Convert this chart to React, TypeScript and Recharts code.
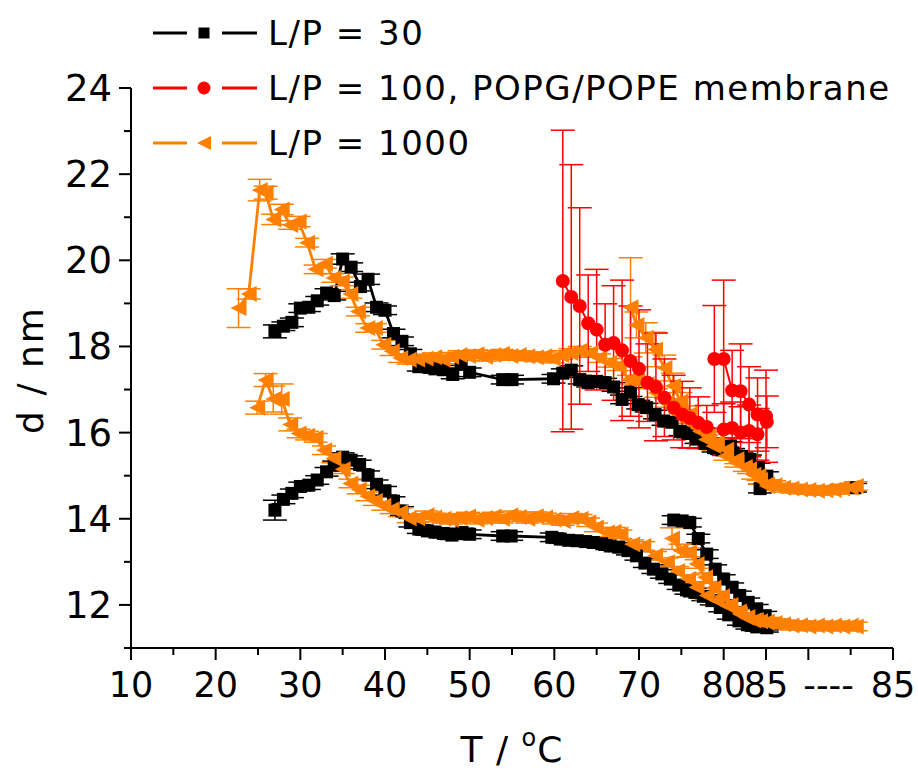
import React from 'react';
import { LineChart, Line, XAxis, YAxis, ErrorBar, Label } from 'recharts';

const FONT = '"DejaVu Sans", Verdana, sans-serif';
const BLACK = '#000000';
const RED = '#ff0000';
const ORANGE = '#ff8000';

// [T, d, error], one array per run
const lp30Upper: number[][] = [
  [27.0, 18.35, 0.15], [28.0, 18.47, 0.1], [29.0, 18.56, 0.1], [30.0, 18.89, 0.1], [31.0, 18.91, 0.1],
  [32.0, 19.06, 0.1], [33.1, 19.24, 0.1], [34.0, 19.18, 0.1], [35.0, 20.03, 0.12], [36.0, 19.84, 0.1],
  [37.1, 19.39, 0.1], [38.0, 19.56, 0.12], [39.0, 18.91, 0.1], [40.0, 18.84, 0.1], [41.0, 18.3, 0.1],
  [42.0, 18.12, 0.1], [43.0, 17.83, 0.1], [44.0, 17.53, 0.1], [45.0, 17.53, 0.1], [45.9, 17.48, 0.1],
  [46.9, 17.46, 0.1], [48.0, 17.35, 0.1], [49.0, 17.6, 0.1], [50.0, 17.4, 0.1], [53.9, 17.23, 0.1],
  [55.0, 17.23, 0.1], [59.9, 17.25, 0.1], [61.0, 17.38, 0.1], [62.0, 17.45, 0.1], [63.0, 17.23, 0.1],
  [64.0, 17.16, 0.1], [65.0, 17.19, 0.1], [66.0, 17.16, 0.1], [67.0, 17.06, 0.1], [68.0, 16.77, 0.1],
  [69.0, 16.94, 0.1], [69.9, 16.65, 0.1], [70.9, 16.58, 0.1], [71.9, 16.42, 0.1], [72.9, 16.27, 0.1],
  [73.9, 16.24, 0.1], [74.9, 16.03, 0.1], [75.8, 15.98, 0.1], [76.8, 15.85, 0.1], [77.8, 15.75, 0.1],
  [78.8, 15.65, 0.1], [79.8, 15.6, 0.1], [80.8, 15.69, 0.1], [81.1, 15.53, 0.1], [82.1, 15.45, 0.1],
  [83.1, 15.38, 0.1], [84.1, 15.19, 0.1], [85.1, 14.99, 0.1], [84.3, 14.7, 0.1], [95.5, 14.72, 0.1],
];

const lp30Lower: number[][] = [
  [27.0, 14.2, 0.23], [28.0, 14.45, 0.1], [29.0, 14.59, 0.1], [30.0, 14.75, 0.1], [31.0, 14.78, 0.1],
  [32.0, 14.9, 0.1], [33.1, 15.09, 0.1], [34.0, 15.24, 0.1], [35.0, 15.43, 0.1], [36.0, 15.36, 0.1],
  [37.0, 15.26, 0.1], [38.0, 15.01, 0.1], [39.0, 14.8, 0.1], [40.0, 14.65, 0.1], [41.0, 14.41, 0.1],
  [42.0, 14.18, 0.1], [43.0, 13.91, 0.1], [44.0, 13.76, 0.1], [45.0, 13.72, 0.1], [45.9, 13.69, 0.1],
  [46.9, 13.66, 0.1], [47.9, 13.62, 0.1], [49.1, 13.68, 0.1], [50.0, 13.64, 0.1], [53.9, 13.6, 0.1],
  [54.9, 13.6, 0.1], [59.7, 13.57, 0.1], [60.7, 13.53, 0.1], [61.7, 13.5, 0.1], [62.7, 13.49, 0.1],
  [63.7, 13.47, 0.1], [64.6, 13.45, 0.1], [65.6, 13.42, 0.1], [66.6, 13.37, 0.1], [67.6, 13.34, 0.1],
  [68.7, 13.26, 0.1], [69.7, 13.14, 0.1], [70.7, 12.97, 0.1], [71.7, 12.83, 0.1], [72.7, 12.72, 0.1],
  [73.7, 12.6, 0.1], [74.7, 12.46, 0.1], [75.6, 12.35, 0.1], [76.6, 12.29, 0.1], [77.6, 12.2, 0.1],
  [78.6, 12.1, 0.1], [79.6, 11.94, 0.1], [80.6, 11.77, 0.1], [81.8, 11.63, 0.1], [82.8, 11.54, 0.1],
  [83.9, 11.49, 0.1], [85.1, 11.47, 0.1],
];

const lp30LowerLate: number[][] = [
  [74.1, 13.97, 0.1], [75.1, 13.95, 0.1], [76.0, 13.91, 0.1], [77.0, 13.54, 0.1], [78.0, 13.18, 0.1],
  [79.0, 12.83, 0.1], [80.0, 12.6, 0.1], [81.0, 12.41, 0.1], [81.9, 12.22, 0.1], [82.9, 12.06, 0.1],
  [83.9, 11.91, 0.1], [84.9, 11.75, 0.1], [85.1, 11.52, 0.1],
];

const lp100Main: number[][] = [
  [61.0, 19.52, 3.5], [62.0, 19.15, 3.07], [63.0, 18.94, 2.28], [64.0, 18.54, 1.12], [65.0, 18.39, 1.4],
  [66.0, 18.04, 0.95], [67.0, 18.08, 1.33], [68.0, 17.91, 1.63], [69.0, 17.66, 1.28], [70.0, 17.48, 1.37],
  [71.0, 17.16, 0.9], [72.0, 17.06, 1.25], [73.0, 16.81, 0.9], [74.1, 16.58, 0.75], [75.1, 16.42, 0.77],
  [76.0, 16.34, 0.7], [77.0, 16.23, 0.6], [78.0, 16.13, 0.5], [80.0, 16.07, 0.6], [81.0, 16.11, 0.6],
  [82.0, 16.0, 0.6], [83.0, 16.04, 0.6], [84.0, 15.96, 0.6], [85.1, 16.25, 0.6],
];

const lp100Late: number[][] = [
  [78.9, 17.71, 1.24], [80.0, 17.71, 1.83], [81.0, 16.98, 0.93], [82.0, 16.96, 1.1], [83.0, 16.65, 0.88],
  [84.0, 16.42, 0.85], [85.0, 16.38, 1.07],
];

const lp1000Upper: number[][] = [
  [22.7, 18.89, 0.45], [23.9, 19.22, 0.12], [25.2, 21.63, 0.25], [25.9, 21.57, 0.15], [26.8, 20.95, 0.12],
  [27.8, 21.18, 0.12], [28.8, 20.82, 0.1], [29.8, 20.9, 0.12], [30.8, 20.41, 0.1], [31.8, 19.79, 0.1],
  [32.9, 19.92, 0.1], [33.9, 19.59, 0.1], [34.9, 19.51, 0.1], [35.9, 19.22, 0.1], [36.8, 18.81, 0.1],
  [37.9, 18.43, 0.1], [38.8, 18.43, 0.1], [39.8, 18.04, 0.1], [40.8, 17.89, 0.1], [41.8, 17.73, 0.1],
  [42.8, 17.69, 0.1], [43.8, 17.7, 0.1], [44.8, 17.72, 0.1], [45.8, 17.75, 0.1], [46.8, 17.7, 0.1],
  [47.8, 17.76, 0.1], [48.8, 17.8, 0.1], [49.8, 17.78, 0.1], [50.8, 17.82, 0.1], [51.8, 17.76, 0.1],
  [52.8, 17.8, 0.1], [53.8, 17.83, 0.1], [54.8, 17.78, 0.1], [55.8, 17.8, 0.1], [56.8, 17.77, 0.1],
  [57.8, 17.75, 0.1], [58.8, 17.77, 0.1], [59.8, 17.72, 0.1], [60.8, 17.8, 0.1], [61.9, 17.85, 0.1],
  [63.0, 17.9, 0.1], [64.2, 17.85, 0.1], [65.3, 17.73, 0.1], [66.5, 17.62, 0.1], [67.6, 17.54, 0.1],
  [68.8, 17.23, 0.1], [69.8, 17.2, 0.1], [70.9, 17.12, 0.1], [72.0, 16.92, 0.1], [73.2, 16.69, 0.1],
  [74.3, 16.46, 0.1], [75.3, 16.31, 0.1], [76.3, 16.2, 0.1], [77.2, 16.03, 0.1], [78.2, 15.92, 0.1],
  [79.2, 15.77, 0.1], [80.3, 15.6, 0.1], [81.5, 15.38, 0.1], [82.5, 15.2, 0.1], [83.5, 15.02, 0.1],
  [84.3, 14.9, 0.1], [85.1, 14.76, 0.1], [86.0, 14.78, 0.1], [87.0, 14.72, 0.1], [88.0, 14.7, 0.1],
  [89.0, 14.68, 0.1], [90.0, 14.67, 0.1], [91.0, 14.65, 0.1], [92.0, 14.66, 0.1], [93.0, 14.67, 0.1],
  [94.0, 14.7, 0.1], [95.0, 14.72, 0.1], [95.6, 14.76, 0.1],
];

const lp1000UpperLate: number[][] = [
  [69.0, 18.91, 1.15], [69.7, 18.5, 0.3], [70.8, 18.2, 0.35], [71.9, 17.93, 0.4], [73.0, 17.5, 0.3],
  [74.0, 17.08, 0.3], [74.9, 16.73, 0.2], [75.9, 16.42, 0.2], [76.9, 16.11, 0.15], [77.9, 15.84, 0.1],
  [78.8, 15.69, 0.1], [80.2, 15.46, 0.1], [81.5, 15.3, 0.1], [83.0, 15.15, 0.1], [84.1, 14.99, 0.1],
  [85.1, 14.8, 0.1],
];

const lp1000Lower: number[][] = [
  [24.9, 16.58, 0.15], [25.9, 17.22, 0.15], [26.8, 16.78, 0.3], [27.8, 16.78, 0.35], [28.8, 16.19, 0.15],
  [29.8, 15.98, 0.1], [30.8, 15.93, 0.1], [31.8, 15.88, 0.1], [32.8, 15.59, 0.1], [33.9, 15.4, 0.1],
  [35.0, 15.15, 0.1], [35.9, 14.82, 0.1], [36.9, 14.68, 0.1], [37.9, 14.52, 0.1], [38.8, 14.41, 0.1],
  [39.8, 14.3, 0.1], [40.8, 14.22, 0.1], [41.8, 14.15, 0.1], [42.8, 14.01, 0.1], [43.8, 14.01, 0.1],
  [44.9, 14.08, 0.1], [45.8, 14.03, 0.1], [46.9, 14.0, 0.1], [47.8, 13.98, 0.1], [48.8, 14.02, 0.1],
  [49.8, 14.05, 0.1], [50.8, 13.98, 0.1], [51.8, 14.02, 0.1], [52.8, 14.05, 0.1], [53.8, 14.0, 0.1],
  [54.8, 14.08, 0.1], [55.8, 14.04, 0.1], [56.8, 14.0, 0.1], [57.8, 14.06, 0.1], [58.9, 14.03, 0.1],
  [59.9, 13.98, 0.1], [61.0, 13.95, 0.1], [62.0, 14.02, 0.1], [63.1, 14.0, 0.1], [64.0, 13.92, 0.1],
  [64.9, 13.8, 0.1], [66.2, 13.68, 0.1], [67.0, 13.7, 0.1], [67.8, 13.64, 0.1], [69.2, 13.41, 0.1],
  [70.5, 13.37, 0.1], [71.9, 13.14, 0.1], [73.3, 12.99, 0.1], [74.5, 12.79, 0.1], [75.8, 12.6, 0.1],
  [76.8, 12.41, 0.1], [78.0, 12.22, 0.1], [79.2, 12.1, 0.1], [80.4, 11.98, 0.1], [81.9, 11.79, 0.1],
  [82.7, 11.7, 0.1], [83.5, 11.64, 0.1], [84.3, 11.62, 0.1], [85.1, 11.61, 0.1], [86.0, 11.58, 0.1],
  [87.0, 11.55, 0.1], [88.0, 11.52, 0.1], [89.0, 11.53, 0.1], [90.0, 11.5, 0.1], [91.0, 11.52, 0.1],
  [92.0, 11.5, 0.1], [93.0, 11.52, 0.1], [94.0, 11.5, 0.1], [95.0, 11.52, 0.1], [95.6, 11.5, 0.1],
];

const lp1000LowerLate: number[][] = [
  [73.9, 13.54, 0.25], [74.9, 13.26, 0.15], [75.9, 13.22, 0.1], [76.8, 12.95, 0.1], [77.8, 12.64, 0.1],
  [78.8, 12.4, 0.1], [79.8, 12.2, 0.1], [80.8, 12.0, 0.1], [81.8, 11.85, 0.1], [82.8, 11.72, 0.1],
  [83.8, 11.65, 0.1], [85.0, 11.6, 0.1],
];

const seriesNames = ['L/P = 30', 'L/P = 100, POPG/POPE membrane', 'L/P = 1000'];

const xMajorTicks = [10, 20, 30, 40, 50, 60, 70, 80, 85, 90, 100];
const xMinorTicks = [15, 25, 35, 45, 55, 65, 75, 95];
const xTickLabels: Record<number, string> = {
  10: '10', 20: '20', 30: '30', 40: '40', 50: '50', 60: '60', 70: '70', 80: '80', 85: '85', 90: '----', 100: '85',
};
const yMajorTicks = [12, 14, 16, 18, 20, 22, 24];
const yMinorTicks = [11, 13, 15, 17, 19, 21, 23];

const toRows = (rows: number[][]) => rows.map(([t, d, err]) => ({ t, d, err }));

const Square = ({ cx, cy, size, color }: any) => (
  <rect x={cx - size / 2} y={cy - size / 2} width={size} height={size} fill={color} />
);
const Circle = ({ cx, cy, size, color }: any) => <circle cx={cx} cy={cy} r={size / 2} fill={color} />;
const Triangle = ({ cx, cy, size, color }: any) => {
  const h = size / 2;
  return <polygon points={`${cx - h},${cy} ${cx + h},${cy - h} ${cx + h},${cy + h}`} fill={color} />;
};

const dotRenderer = (Shape: any, size: number, color: string) => (props: any) => {
  const { cx, cy, index } = props;
  if (cx == null || cy == null) return <g key={index} />;
  return <Shape key={index} cx={cx} cy={cy} size={size} color={color} />;
};

const XTick = (props: any) => {
  const { x, y, payload } = props;
  const v = payload.value;
  const major = xMajorTicks.includes(v);
  const label = xTickLabels[v];
  const isDash = v === 90;
  return (
    <g>
      <line x1={x} x2={x} y1={y} y2={y + (major ? 12 : 7)} stroke={BLACK} strokeWidth={2} />
      {label && (
        <text
          x={isDash ? x - 5 : x}
          y={y + 49}
          textAnchor={isDash ? 'start' : 'middle'}
          fontFamily={FONT}
          fontSize={35}
          fill={BLACK}
        >
          {label}
        </text>
      )}
    </g>
  );
};

const YTick = (props: any) => {
  const { x, y, payload } = props;
  const v = payload.value;
  const major = yMajorTicks.includes(v);
  return (
    <g>
      <line x1={x} x2={x - (major ? 12 : 7)} y1={y} y2={y} stroke={BLACK} strokeWidth={2} />
      {major && (
        <text x={x - 19} y={y + 13} textAnchor="end" fontFamily={FONT} fontSize={37} fill={BLACK}>
          {v}
        </text>
      )}
    </g>
  );
};

const legendRows = [
  { name: seriesNames[0], color: BLACK, shape: Square, size: 11, top: 33 },
  { name: seriesNames[1], color: RED, shape: Circle, size: 13, top: 88 },
  { name: seriesNames[2], color: ORANGE, shape: Triangle, size: 14, top: 143 },
];

const series = [
  { rows: lp30Upper, color: BLACK, shape: Square, size: 13, width: 2.8 },
  { rows: lp30Lower, color: BLACK, shape: Square, size: 13, width: 2.8 },
  { rows: lp30LowerLate, color: BLACK, shape: Square, size: 13, width: 2.8 },
  { rows: lp1000Upper, color: ORANGE, shape: Triangle, size: 16, width: 2.8 },
  { rows: lp1000UpperLate, color: ORANGE, shape: Triangle, size: 16, width: 2.8 },
  { rows: lp1000Lower, color: ORANGE, shape: Triangle, size: 16, width: 2.8 },
  { rows: lp1000LowerLate, color: ORANGE, shape: Triangle, size: 16, width: 2.8 },
  { rows: lp100Main, color: RED, shape: Circle, size: 14, width: 2 },
  { rows: lp100Late, color: RED, shape: Circle, size: 14, width: 2 },
];

export default function App() {
  return (
    <div style={{ position: 'absolute', left: 0, top: 0, width: 918, height: 771, background: '#fff' }}>
      <LineChart width={918} height={771} margin={{ top: 88, right: 25, left: 31, bottom: 43 }}>
        <XAxis
          dataKey="t"
          type="number"
          domain={[10, 100]}
          ticks={[...xMajorTicks, ...xMinorTicks].sort((a, b) => a - b)}
          interval={0}
          allowDataOverflow
          height={80}
          tickSize={0}
          tickMargin={0}
          tick={<XTick />}
          axisLine={{ stroke: BLACK, strokeWidth: 2 }}
        >
          <Label
            content={() => (
              <text x={512} y={762} textAnchor="middle" fontFamily={FONT} fontSize={36} fill={BLACK} letterSpacing={1}>
                T / <tspan fontSize={24} dy={-16}>o</tspan>
                <tspan dy={16}>C</tspan>
              </text>
            )}
          />
        </XAxis>
        <YAxis
          dataKey="d"
          type="number"
          domain={[11, 24]}
          ticks={[...yMajorTicks, ...yMinorTicks].sort((a, b) => a - b)}
          interval={0}
          allowDataOverflow
          width={100}
          tickSize={0}
          tickMargin={0}
          tick={<YTick />}
          axisLine={{ stroke: BLACK, strokeWidth: 2 }}
        >
          <Label
            content={() => (
              <text
                x={0}
                y={0}
                transform="translate(43,370) rotate(-90)"
                textAnchor="middle"
                fontFamily={FONT}
                fontSize={36}
                fill={BLACK}
                letterSpacing={2}
              >
                d / nm
              </text>
            )}
          />
        </YAxis>
        {series.map((s, i) => (
          <Line
            key={i}
            data={toRows(s.rows)}
            dataKey="d"
            type="linear"
            stroke={s.color}
            strokeWidth={s.width}
            dot={dotRenderer(s.shape, s.size, s.color)}
            activeDot={false}
            isAnimationActive={false}
            legendType="none"
          >
            <ErrorBar dataKey="err" direction="y" width={12} stroke={s.color} strokeWidth={1.5} />
          </Line>
        ))}
      </LineChart>
      {legendRows.map((r) => (
        <div
          key={r.name}
          style={{ position: 'absolute', left: 150, top: r.top - 20, height: 40, display: 'flex', alignItems: 'center' }}
        >
          <svg width={115} height={40}>
            <line x1={3} x2={37} y1={20} y2={20} stroke={r.color} strokeWidth={3} />
            <r.shape cx={54} cy={20} size={r.size} color={r.color} />
            <line x1={72} x2={107} y1={20} y2={20} stroke={r.color} strokeWidth={3} />
          </svg>
          <span
            style={{
              marginLeft: 3,
              fontFamily: FONT,
              fontSize: 34,
              letterSpacing: 1.5,
              color: BLACK,
              whiteSpace: 'nowrap',
              lineHeight: '40px',
            }}
          >
            {r.name}
          </span>
        </div>
      ))}
    </div>
  );
}
